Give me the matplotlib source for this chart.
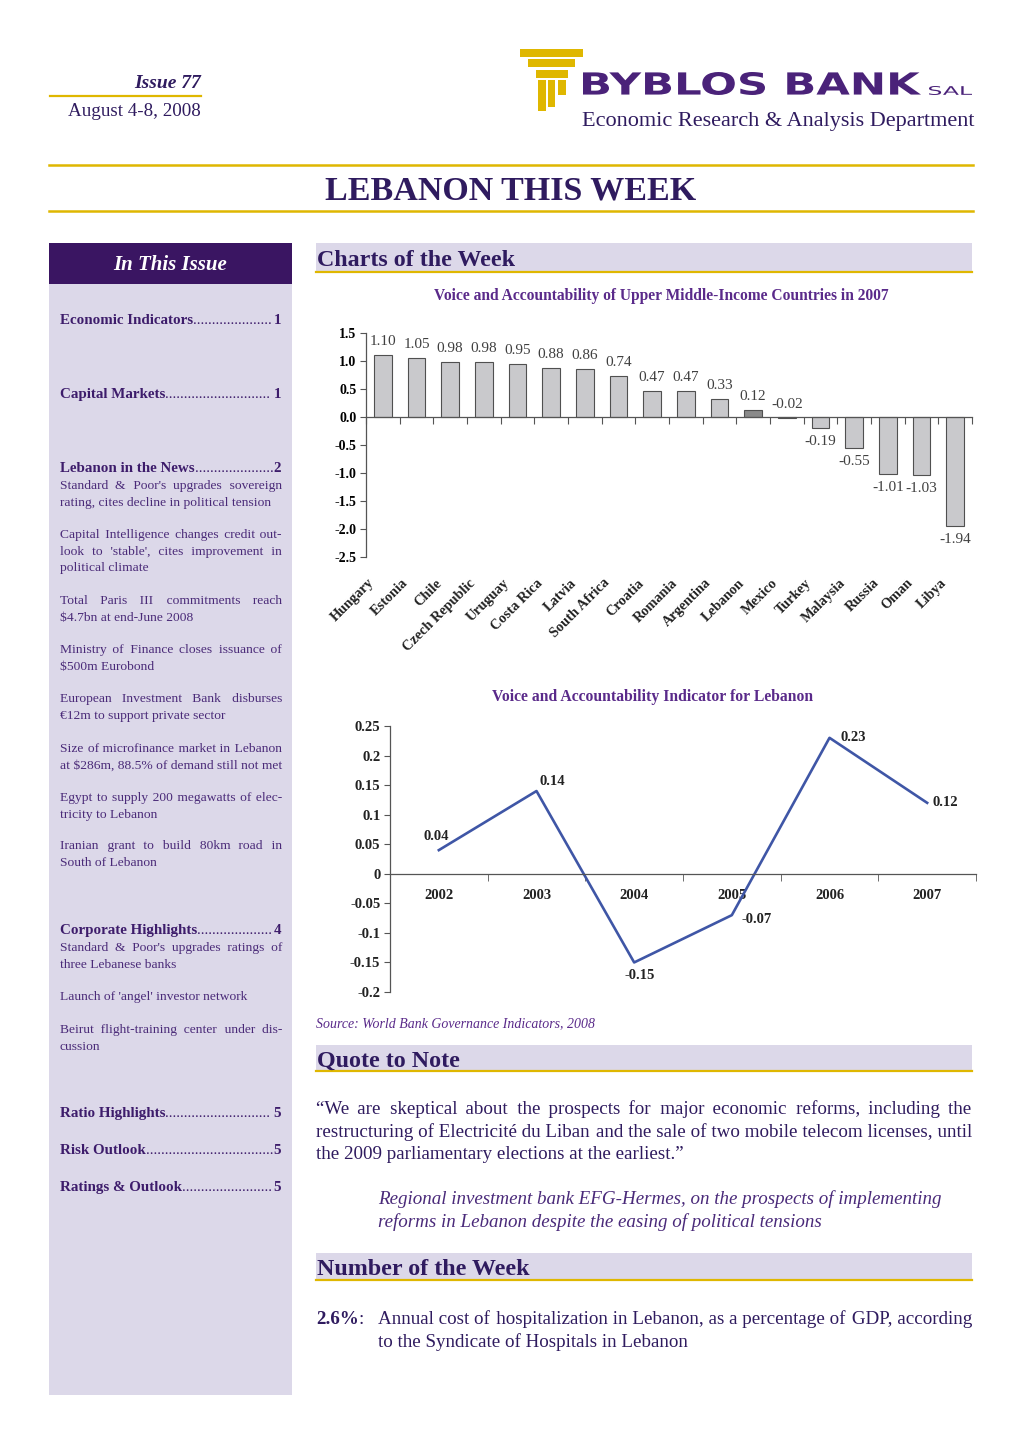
import numpy as np
import matplotlib
matplotlib.use('Agg')
import matplotlib.pyplot as plt
from matplotlib.patches import Rectangle, PathPatch
from matplotlib.textpath import TextPath
from matplotlib.font_manager import FontProperties
from matplotlib.transforms import Affine2D
from matplotlib.ticker import FuncFormatter

# --- chart data ---
countries = ['Hungary', 'Estonia', 'Chile', 'Czech Republic', 'Uruguay', 'Costa Rica',
             'Latvia', 'South Africa', 'Croatia', 'Romania', 'Argentina', 'Lebanon',
             'Mexico', 'Turkey', 'Malaysia', 'Russia', 'Oman', 'Libya']
voice_2007 = [1.10, 1.05, 0.98, 0.98, 0.95, 0.88, 0.86, 0.74, 0.47, 0.47, 0.33, 0.12,
              -0.02, -0.19, -0.55, -1.01, -1.03, -1.94]
years = ['2002', '2003', '2004', '2005', '2006', '2007']
voice_lebanon = [0.04, 0.14, -0.15, -0.07, 0.23, 0.12]

# --- page text ---
toc_news = [
    ["Standard & Poor's upgrades sovereign", "rating, cites decline in political tension"],
    ["Capital Intelligence changes credit out-", "look to 'stable', cites improvement in", "political climate"],
    ["Total Paris III commitments reach", "$4.7bn at end-June 2008"],
    ["Ministry of Finance closes issuance of", "$500m Eurobond"],
    ["European Investment Bank disburses", "\u20ac12m to support private sector"],
    ["Size of microfinance market in Lebanon", "at $286m, 88.5% of demand still not met"],
    ["Egypt to supply 200 megawatts of elec-", "tricity to Lebanon"],
    ["Iranian grant to build 80km road in", "South of Lebanon"],
]
toc_corp = [
    ["Standard & Poor's upgrades ratings of", "three Lebanese banks"],
    ["Launch of 'angel' investor network"],
    ["Beirut flight-training center under dis-", "cussion"],
]
quote_lines = ["\u201cWe are skeptical about the prospects for major economic reforms, including the",
               "restructuring of Electricit\u00e9 du Liban and the sale of two mobile telecom licenses, until",
               "the 2009 parliamentary elections at the earliest.\u201d"]
quote_source = ["Regional investment bank EFG-Hermes, on the prospects of implementing",
                "reforms in Lebanon despite the easing of political tensions"]
number_lines = ["Annual cost of hospitalization in Lebanon, as a percentage of GDP, according",
                "to the Syndicate of Hospitals in Lebanon"]

SERIF = 'Liberation Serif'
FAM = [SERIF, 'DejaVu Sans']
GOLD = '#dfb700'
LAV = '#dcd8e9'
DARK = '#2f1b5f'
SIDE = '#4a2a78'
PURPLE = '#5a2a8a'
LOGO = '#4a2279'
HAIR = '\u200a'

W, H = 1020, 1443
fig = plt.figure(figsize=(W / 100, H / 100), dpi=100)
page = fig.add_axes([0, 0, 1, 1])
page.set_xlim(0, W)
page.set_ylim(H, 0)
page.axis('off')
renderer = fig.canvas.get_renderer()


def text_width(s, size, **kw):
    kw.pop('color', None)
    t = page.text(0, 0, s, fontsize=size, family=FAM, **kw)
    w = t.get_window_extent(renderer).width
    t.remove()
    return w


def put(x, yc, s, size, ha='left', **kw):
    base = yc + 0.33 * size * 100 / 72
    return page.text(x, base, s, fontsize=size, ha=ha, va='baseline', family=FAM, **kw)


def justify(x0, x1, yc, line, size, last=False, **kw):
    # one text per line: word gaps are widened with hair spaces
    words = line.split(' ')
    if last or len(words) == 1:
        put(x0, yc, line, size, **kw)
        return
    widths = [text_width(w, size, **kw) for w in words]
    gap = (x1 - x0 - sum(widths)) / (len(words) - 1)
    ab = text_width('ab', size, **kw)
    sp_w = text_width('a b', size, **kw) - ab
    hair_w = (text_width('a' + HAIR * 10 + 'b', size, **kw) - ab) / 10
    s = words[0]
    for i in range(1, len(words)):
        need = sum(widths[:i]) + i * gap - text_width(s, size, **kw)
        if need >= sp_w:
            sep = ' ' + HAIR * max(0, int(round((need - sp_w) / hair_w)))
        else:
            sep = HAIR * max(1, int(round(need / hair_w)))
        s += sep + words[i]
    put(x0, yc, s, size, **kw)


def paragraph(x0, x1, y0, lines, size, lh, **kw):
    for i, ln in enumerate(lines):
        justify(x0, x1, y0 + i * lh, ln, size, last=(i == len(lines) - 1), **kw)


def toc(yc, title, num):
    size = 10.8
    put(60, yc, title, size, weight='bold', color='#3d1c6b')
    put(281, yc, num, size, ha='right', weight='bold', color='#3d1c6b')
    tw = text_width(title, size, weight='bold')
    nw = text_width(num, size, weight='bold')
    dw = text_width('.' * 20, size) / 20
    n = int((281 - nw - 60 - tw) / dw)
    put(60 + tw, yc, '.' * n, size, color='#3d1c6b')


def band(y0, y1, title):
    page.add_patch(Rectangle((316, y0), 656, y1 - y0, fc=LAV, ec='none'))
    page.plot([316, 972], [y1, y1], color=GOLD, lw=1.6)
    put(317, (y0 + y1) / 2 + 1, title, 17.3, weight='bold', color=DARK)


def logo_text(s, x0, x1, ytop, ybase, weight):
    # the wordmark is stretched to its box; an invisible text keeps it readable
    tp = TextPath((0, 0), s, size=100, prop=FontProperties(family='DejaVu Sans', weight=weight))
    bb = tp.get_extents()
    tr = (Affine2D().translate(-bb.x0, -bb.y0)
          .scale((x1 - x0) / bb.width, -(ybase - ytop) / bb.height).translate(x0, ybase))
    page.add_patch(PathPatch(tr.transform_path(tp), fc=LOGO, ec='none'))
    page.text(x0, ybase, s, fontsize=(ybase - ytop) * 72 / 100 / 0.73, family='DejaVu Sans',
              weight=weight, color=LOGO, alpha=0.0, va='baseline')


# --- header ---
put(201, 82, 'Issue 77', 14, ha='right', weight='bold', style='italic', color=DARK)
page.plot([50, 201], [96, 96], color=GOLD, lw=1.6)
put(201, 110, 'August 4-8, 2008', 13.7, ha='right', color=DARK)

for (x0, x1, y0, y1) in [(520, 583, 49, 57), (528, 575, 59, 67), (536, 568, 70, 78),
                         (538, 546, 80, 111), (548, 555, 80, 107), (558, 566, 80, 95)]:
    page.add_patch(Rectangle((x0, y0), x1 - x0, y1 - y0, fc=GOLD, ec='none'))

logo_text('BYBLOS BANK', 583, 921, 72, 95, 'bold')
logo_text('SAL', 929, 972, 86, 95, 'normal')
put(975, 119, 'Economic Research & Analysis Department', 16, ha='right', color=DARK)

page.plot([49, 973], [165, 165], color=GOLD, lw=1.8)
page.plot([49, 973], [211, 211], color=GOLD, lw=1.8)
put(511, 188, 'LEBANON THIS WEEK', 24.5, ha='center', weight='bold', color=DARK)

# --- sidebar ---
page.add_patch(Rectangle((49, 243), 243, 41, fc='#3a1562', ec='none'))
page.add_patch(Rectangle((49, 284), 243, 1111, fc=LAV, ec='none'))
put(170, 263, 'In This Issue', 15, ha='center', weight='bold', style='italic', color='white')

toc(319, 'Economic Indicators', '1')
toc(393, 'Capital Markets', '1')
toc(467, 'Lebanon in the News', '2')
news_y = [485, 534, 600, 649, 698, 748, 797, 845]
for y, lines in zip(news_y, toc_news):
    paragraph(60, 282, y, lines, 9.7, 16.4, color=SIDE)
toc(929, 'Corporate Highlights', '4')
for y, lines in zip([947, 996, 1029], toc_corp):
    paragraph(60, 282, y, lines, 9.7, 16.4, color=SIDE)
toc(1112, 'Ratio Highlights', '5')
toc(1149, 'Risk Outlook', '5')
toc(1186, 'Ratings & Outlook', '5')

# --- main column ---
band(243, 272, 'Charts of the Week')

put(661, 295, 'Voice and Accountability of Upper Middle-Income Countries in 2007', 11.2,
    ha='center', weight='bold', color=PURPLE)
put(653, 696, 'Voice and Accountability Indicator for Lebanon', 11.3,
    ha='center', weight='bold', color=PURPLE)
put(316, 1023, 'Source: World Bank Governance Indicators, 2008', 10, style='italic', color=PURPLE)

band(1045, 1071, 'Quote to Note')
paragraph(316, 972, 1108, quote_lines, 13.7, 22.6, color=DARK)
for i, ln in enumerate(quote_source):
    put(378, 1198 + i * 23, ln, 13.7, style='italic', color='#4a2a7a')

band(1253, 1280, 'Number of the Week')
put(316, 1318, '2.6%', 13.7, weight='bold', color=DARK)
put(316 + text_width('2.6%', 13.7, weight='bold'), 1318, ':', 13.7, color=DARK)
paragraph(378, 972, 1318, number_lines, 13.7, 23, color=DARK)


def px_axes(x0, x1, y0, y1):
    return fig.add_axes([x0 / W, 1 - y1 / H, (x1 - x0) / W, (y1 - y0) / H])


# --- chart 1: bar chart ---
ax1 = px_axes(366, 972, 333, 557)
ax1.patch.set_alpha(0)
x = np.arange(len(countries))
bar_colors = ['#8a8a8a' if c == 'Lebanon' else '#c9c9cc' for c in countries]
ax1.bar(x, voice_2007, width=0.52, color=bar_colors, edgecolor='#505050', linewidth=0.8)
ax1.set_xlim(-0.5, len(countries) - 0.5)
ax1.set_ylim(-2.5, 1.5)
ax1.set_yticks(np.arange(-2.5, 1.51, 0.5))
ax1.yaxis.set_major_formatter(FuncFormatter(lambda v, p: f'{v:.1f}'))
for s in ['top', 'right']:
    ax1.spines[s].set_visible(False)
ax1.spines['bottom'].set_position(('data', 0))
for s in ['left', 'bottom']:
    ax1.spines[s].set_color('#555555')
    ax1.spines[s].set_linewidth(0.9)
ax1.set_xticks(np.arange(-0.5, len(countries), 1))
ax1.set_xticklabels([])
ax1.tick_params(axis='x', direction='out', length=5, color='#555555')
ax1.tick_params(axis='y', direction='out', length=4, color='#555555', pad=3)
for lab in ax1.get_yticklabels():
    lab.set_fontfamily(SERIF)
    lab.set_fontweight('bold')
    lab.set_fontsize(10)
for i, (c, v) in enumerate(zip(countries, voice_2007)):
    if v > -0.1:
        ax1.annotate(f'{v:.2f}', (i, v), xytext=(0, 5), textcoords='offset points',
                     ha='center', va='bottom', fontsize=11, family=SERIF, color='#404040')
    else:
        ax1.annotate(f'{v:.2f}', (i, v), xytext=(0, -5), textcoords='offset points',
                     ha='center', va='top', fontsize=11, family=SERIF, color='#404040')
    ax1.annotate(c, (i, 0), xycoords=ax1.get_xaxis_transform(), xytext=(-11, -14),
                 textcoords='offset points', rotation=45, ha='right', va='top',
                 rotation_mode='anchor', fontsize=10.3, family=SERIF, weight='bold', color='#222222')

# --- chart 2: line chart ---
ax2 = px_axes(390, 976, 726, 992)
ax2.patch.set_alpha(0)
xs = np.arange(len(years))
ax2.plot(xs, voice_lebanon, color='#3f56a6', lw=1.9)
ax2.set_xlim(-0.5, len(years) - 0.5)
ax2.set_ylim(-0.2, 0.25)
ax2.set_yticks(np.round(np.arange(-0.2, 0.251, 0.05), 2))
ax2.yaxis.set_major_formatter(FuncFormatter(lambda v, p: f'{round(v, 2) + 0.0:g}'))
for s in ['top', 'right']:
    ax2.spines[s].set_visible(False)
ax2.spines['bottom'].set_position(('data', 0))
for s in ['left', 'bottom']:
    ax2.spines[s].set_color('#555555')
    ax2.spines[s].set_linewidth(0.9)
ax2.set_xticks(xs)
ax2.set_xticklabels(years)
ax2.set_xticks(np.arange(0.5, len(years), 1), minor=True)
ax2.tick_params(axis='x', which='major', length=0, pad=11)
ax2.tick_params(axis='x', which='minor', direction='out', length=5, color='#555555')
ax2.tick_params(axis='y', direction='out', length=4, color='#555555', pad=3)
for lab in ax2.get_yticklabels() + ax2.get_xticklabels():
    lab.set_fontfamily(SERIF)
    lab.set_fontweight('bold')
    lab.set_fontsize(10.5)
    lab.set_color('#222222')
label_style = [((-2, 5), 'center', 'bottom'), ((2, 7), 'left', 'center'),
               ((4, -5), 'center', 'top'), ((7, -3), 'left', 'center'),
               ((8, 0), 'left', 'center'), ((3.5, 0), 'left', 'center')]
for xi, v, (off, ha, va) in zip(xs, voice_lebanon, label_style):
    ax2.annotate(f'{v:.2f}', (xi, v), xytext=off, textcoords='offset points', ha=ha, va=va,
                 fontsize=10.5, family=SERIF, weight='bold', color='#222222')

fig.savefig('out.png', dpi=100)
